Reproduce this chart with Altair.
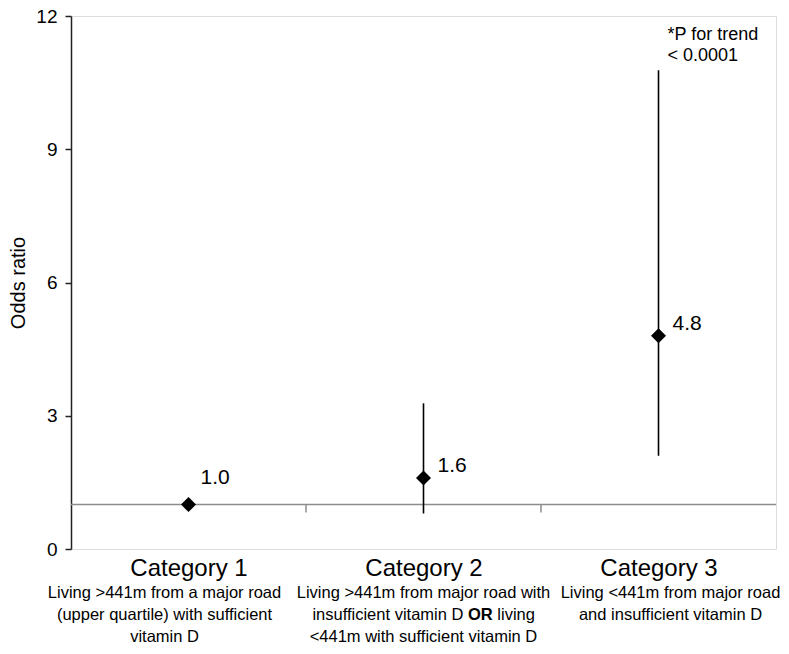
import json
import altair as alt
import pandas as pd

# ---------------- data ----------------
categories = ["Category 1", "Category 2", "Category 3"]
odds_ratio = [1.0, 1.6, 4.8]
ci_low = [None, 0.80, 2.1]
ci_high = [None, 3.28, 10.78]
or_labels = ["1.0", "1.6", "4.8"]
descriptions = [
    ["Living >441m from a major road", "(upper quartile) with sufficient", "vitamin D"],
    ["Living >441m from major road with", "insufficient vitamin D OR living", "<441m with sufficient vitamin D"],
    ["Living <441m from major road", "and insufficient vitamin D"],
]
reference_value = [1]
y_ticks = [0, 3, 6, 9, 12]
trend_note = ["*P for trend", "< 0.0001"]

FONT = "Liberation Sans"
DESC_FS = 16.5
DESC_DY = 49
DESC_LH = 22
DESC_SHIFT = [-24, 0, 12]   # horizontal pixel shift of each description block (style)

positions = [i + 0.5 for i in range(len(categories))]
boundaries = [i for i in range(1, len(categories))]

# description lines (long form); the line containing the bold "OR" is drawn in pieces
bold_word = "OR"
desc_rows = []
bold_parts = None
for i, lines in enumerate(descriptions):
    for j, ln in enumerate(lines):
        if f" {bold_word} " in ln:
            before, after = ln.split(f" {bold_word} ")
            bold_parts = (i, j, before, after)
        else:
            desc_rows.append({"cat_i": i, "pos": positions[i], "line": j, "text": ln})
desc_df = pd.DataFrame(desc_rows)
n_lines = max(len(l) for l in descriptions)

df = pd.DataFrame({
    "cat": categories,
    "pos": positions,
    "or": odds_ratio,
    "lo": ci_low,
    "hi": ci_high,
    "lab": or_labels,
})
df["has_ci"] = df["lo"].notna()

ref_df = pd.DataFrame({"ref": reference_value})
bnd_df = pd.DataFrame({"pos": boundaries, "ref": reference_value * len(boundaries)})
top_idx = df["hi"].idxmax()
note_df = pd.DataFrame({"pos": [df.loc[top_idx, "pos"]], "hi": [df.loc[top_idx, "hi"]],
                        "note": ["\n".join(trend_note)]})

label_expr = f"{json.dumps(categories)}[floor(datum.value)]"

x_enc = alt.X(
    "pos:Q",
    scale=alt.Scale(domain=[0, len(categories)], nice=False, zero=False),
    axis=alt.Axis(values=positions, labelExpr=label_expr, title=None, domain=False,
                  ticks=False, tickSize=0, grid=False, labelFontSize=24,
                  labelPadding=7, labelColor="black", labelFont=FONT),
)
y_scale = alt.Scale(domain=[0, 12], nice=False, zero=True)
y_axis = alt.Axis(values=y_ticks, title="Odds ratio", grid=False, tickSize=6,
                  tickColor="#222", tickWidth=1.5, labelFontSize=19, labelPadding=8,
                  labelColor="black", labelFont=FONT, titleFontSize=20,
                  titleFontWeight="normal", titleFont=FONT, titleColor="black",
                  titleX=-53, titleBaseline="middle", domainColor="#222", domainWidth=1.5)

base = alt.Chart(df)

ref_rule = alt.Chart(ref_df).mark_rule(color="#8c8c8c", strokeWidth=1.5).encode(
    y=alt.Y("ref:Q", scale=y_scale, axis=y_axis)
)

bnd_ticks = alt.Chart(bnd_df).mark_point(
    shape="M0,0L0,1", size=256, filled=False, stroke="#8c8c8c", strokeWidth=1.5, opacity=1
).encode(x=x_enc, y=alt.Y("ref:Q", scale=y_scale, axis=y_axis))

ci = base.transform_filter("isValid(datum.lo)").mark_rule(color="black", strokeWidth=1.6).encode(
    x=x_enc, y=alt.Y("lo:Q", scale=y_scale, axis=y_axis), y2="hi:Q"
)

pts = base.mark_point(shape="diamond", filled=True, size=225, color="black", opacity=1,
                      strokeWidth=0).encode(
    x=x_enc, y=alt.Y("or:Q", scale=y_scale, axis=y_axis)
)

lab_ci = base.transform_filter("datum.has_ci").mark_text(
    align="left", baseline="middle", dx=14, dy=-12, fontSize=21, font=FONT, color="black"
).encode(x=x_enc, y=alt.Y("or:Q", scale=y_scale, axis=y_axis), text="lab:N")

lab_noci = base.transform_filter("!datum.has_ci").mark_text(
    align="left", baseline="middle", dx=12, dy=-27, fontSize=21, font=FONT, color="black"
).encode(x=x_enc, y=alt.Y("or:Q", scale=y_scale, axis=y_axis), text="lab:N")

note = alt.Chart(note_df).mark_text(
    align="left", baseline="alphabetic", dx=9, dy=-30, fontSize=18, lineHeight=21,
    lineBreak="\n", font=FONT, color="black"
).encode(x=x_enc, y=alt.Y("hi:Q", scale=y_scale, axis=y_axis), text="note:N")

layers = [ref_rule, bnd_ticks, ci, pts, lab_ci, lab_noci, note]

for i in range(len(categories)):
    for j in range(n_lines):
        layers.append(
            alt.Chart(desc_df).transform_filter(
                f"datum.cat_i == {i} && datum.line == {j}"
            ).mark_text(
                align="center", baseline="alphabetic", dx=DESC_SHIFT[i],
                dy=DESC_DY + DESC_LH * j, fontSize=DESC_FS, font=FONT, color="black"
            ).encode(x=x_enc, y=alt.datum(0), text="text:N")
        )

if bold_parts is not None:
    bi, bline, before, after = bold_parts
    bdf = pd.DataFrame({"pos": [positions[bi]], "before": [before], "bold": [bold_word],
                        "after": [after]})
    dy_line = DESC_DY + DESC_LH * bline
    sh = DESC_SHIFT[bi]
    common = dict(baseline="alphabetic", dy=dy_line, fontSize=DESC_FS, font=FONT, color="black")
    p1 = alt.Chart(bdf).mark_text(align="right", dx=sh + 39.9, **common).encode(
        x=x_enc, y=alt.datum(0), text="before:N")
    p2 = alt.Chart(bdf).mark_text(align="center", dx=sh + 56.9, fontWeight="bold", **common).encode(
        x=x_enc, y=alt.datum(0), text="bold:N")
    p3 = alt.Chart(bdf).mark_text(align="left", dx=sh + 73.8, **common).encode(
        x=x_enc, y=alt.datum(0), text="after:N")
    layers += [p1, p2, p3]

chart = alt.layer(*layers).properties(
    width=705,
    height=533,
    padding={"left": 63, "top": 8, "right": 5, "bottom": 97},
    autosize=alt.AutoSizeParams(type="none"),
).configure_view(stroke="#222", strokeWidth=1.5).configure(background="white")

chart.save("out.html", embed_options={"renderer": "svg", "actions": False})
